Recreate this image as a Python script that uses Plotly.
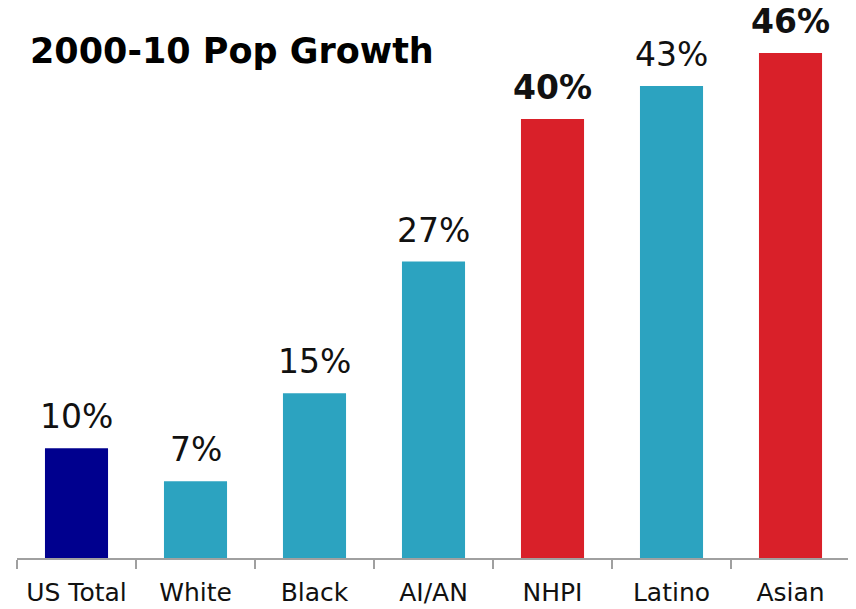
import plotly.graph_objects as go

categories = ["US Total", "White", "Black", "AI/AN", "NHPI", "Latino", "Asian"]
growth = [10, 7, 15, 27, 40, 43, 46]
colors = ["#00008E", "#2CA3C0", "#2CA3C0", "#2CA3C0", "#D92029", "#2CA3C0", "#D92029"]
bold = [False, False, False, False, True, False, True]
labels = [f"{v}%" for v in growth]

FONT = "DejaVu Sans, sans-serif"

fig = go.Figure(go.Bar(
    x=categories, y=growth, marker=dict(color=colors, line=dict(width=0)),
    width=0.53, hoverinfo="skip",
))

for c, v, lab, b in zip(categories, growth, labels, bold):
    fig.add_annotation(
        x=c, y=v, text=f"<b>{lab}</b>" if b else lab, showarrow=False,
        yanchor="bottom", yshift=10,
        font=dict(family=FONT, size=33, color="#111111"),
    )

fig.add_annotation(
    xref="paper", yref="paper", x=0.013, y=0.922, xanchor="left", yanchor="middle",
    text="<b>2000-10 Pop Growth</b>", showarrow=False,
    font=dict(family=FONT, size=35, color="#000000"),
)

fig.update_layout(
    width=856, height=609,
    margin=dict(l=9, r=14, t=0, b=59, autoexpand=False),
    paper_bgcolor="white", plot_bgcolor="white",
    showlegend=False,
    bargap=0.47,
    xaxis=dict(
        showline=True, linecolor="#A0A0A0", linewidth=1.5,
        ticks="outside", tickson="boundaries", ticklen=9, tickcolor="#A0A0A0", tickwidth=1.5,
        tickfont=dict(family=FONT, size=25, color="#111111"),
        ticklabelstandoff=11,
        showgrid=False, fixedrange=True, automargin=False,
    ),
    yaxis=dict(
        range=[0, 50.1], visible=False, showgrid=False, zeroline=False, fixedrange=True,
        automargin=False,
    ),
)

fig.write_html("out.html")
